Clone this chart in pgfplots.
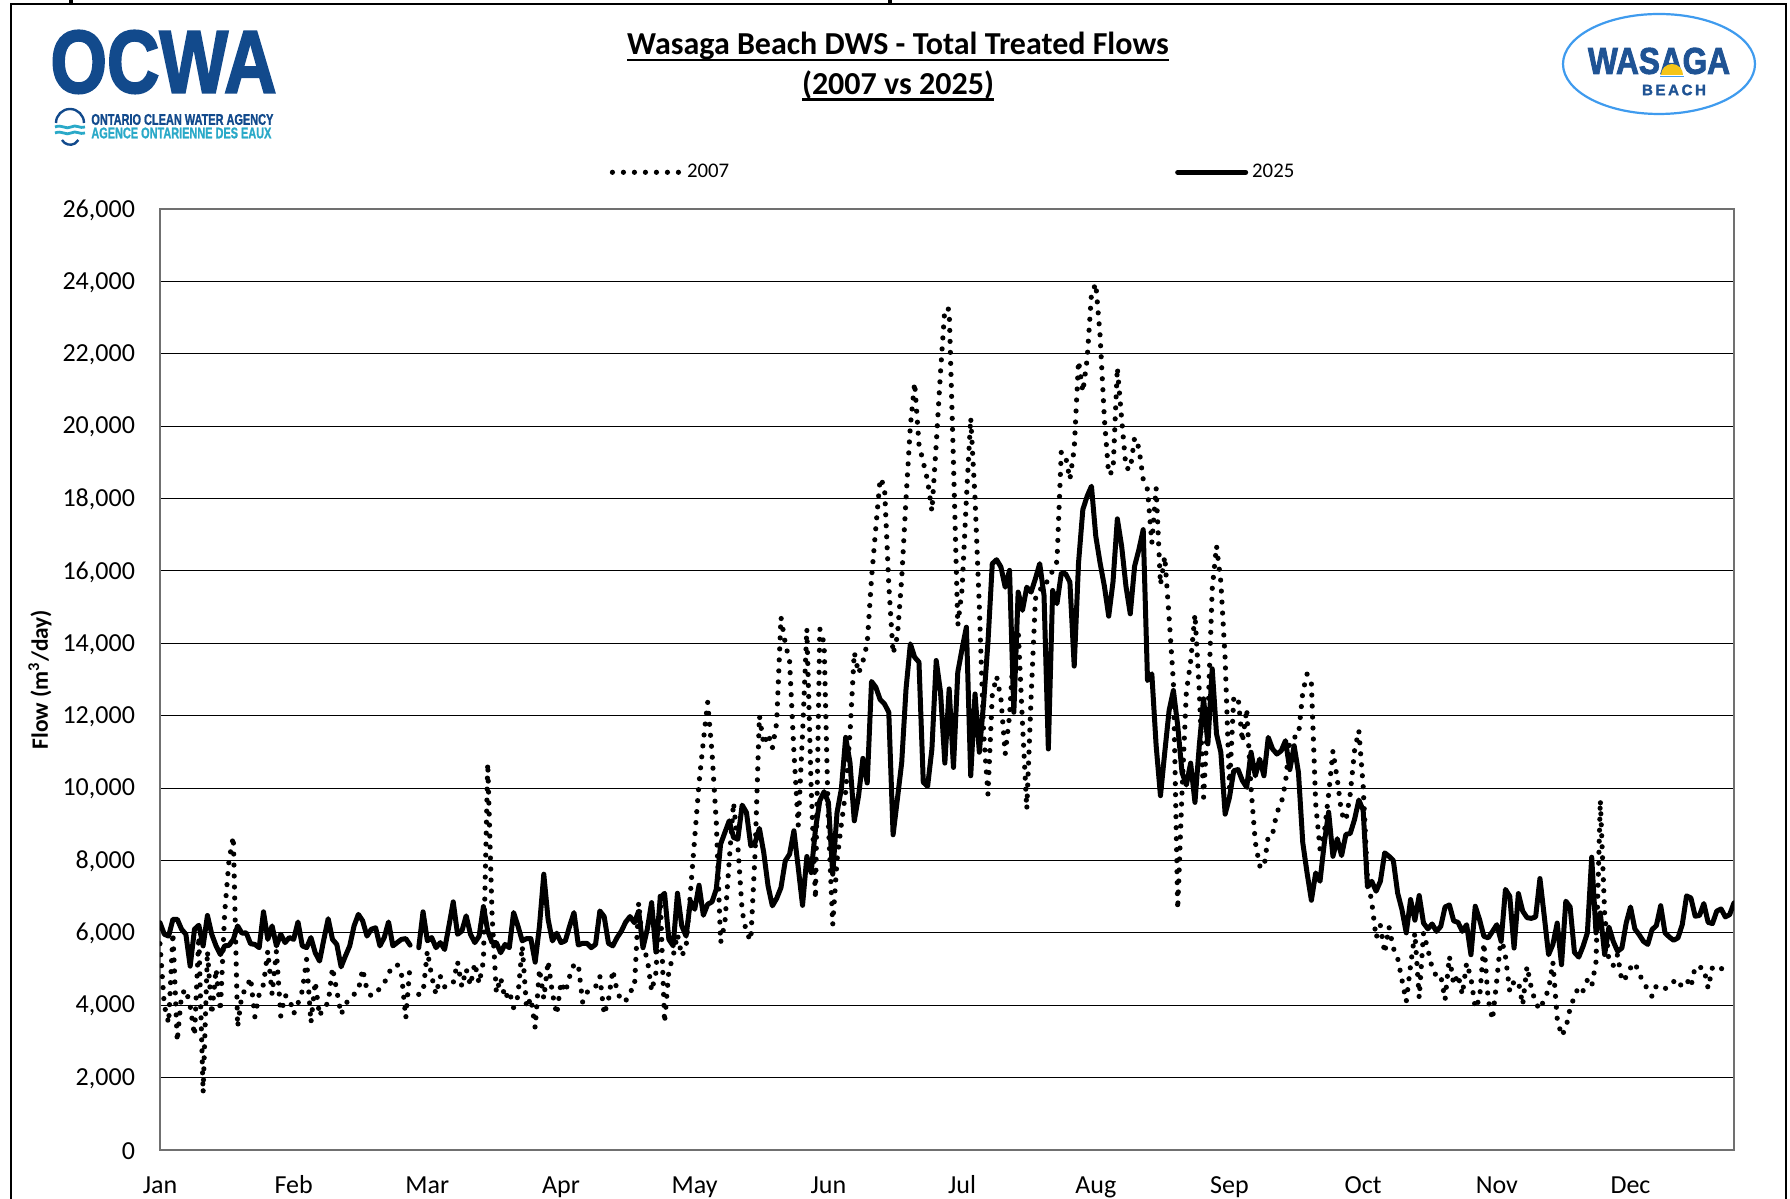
\documentclass[border=0pt]{standalone}
\usepackage{fontspec}
\setmainfont{Carlito}
\newfontfamily\logofont{Liberation Sans}[BoldFeatures={FakeBold=2.5}]
\newfontfamily\smalllogofont{Liberation Sans}[BoldFeatures={FakeBold=1.5}]
\usepackage{pgfplots}
\pgfplotsset{compat=1.18}
\definecolor{ocwablue}{HTML}{124A8C}
\definecolor{ocwateal}{HTML}{2AA9C8}
\definecolor{wasblue}{HTML}{3F9BEE}
\definecolor{wasdark}{HTML}{1F5394}
\definecolor{wassun}{HTML}{F5C518}
\definecolor{framegray}{HTML}{707070}
\newsavebox{\ulbox}
\newcommand{\thickul}[2]{\sbox{\ulbox}{#2}\rlap{\rule[-2.9pt]{\wd\ulbox}{#1}}\usebox{\ulbox}}
\begin{document}
\begin{tikzpicture}
\begin{scope}[x=0.5pt,y=-0.5pt,yshift=599.5pt]
\draw[line width=1.2pt,black] (11,1199)--(11,4)--(1786,4)--(1786,1199);
\draw[line width=2.2pt,black] (71,0)--(71,4);
\draw[line width=1.6pt,black] (890,0)--(890,4);
% OCWA logo
\node[inner sep=0pt,text=ocwablue] at (163.5,62) {\resizebox{113pt}{31pt}{\logofont\bfseries OCWA}};
\node[inner sep=0pt,anchor=west,text=ocwablue] at (91,119.5) {\resizebox{91pt}{5.4pt}{\smalllogofont\bfseries ONTARIO CLEAN WATER AGENCY}};
\node[inner sep=0pt,anchor=west,text=ocwateal] at (91,133) {\resizebox{90pt}{5.4pt}{\smalllogofont\bfseries AGENCE ONTARIENNE DES EAUX}};
\draw[ocwablue,line width=1.2pt] (56,123) arc[start angle=180,end angle=360,radius=14];
\draw[ocwablue,line width=1.2pt] (62,140) arc[start angle=150,end angle=30,radius=9.5];
\foreach \yy in {127,133}{\draw[ocwateal,line width=1.4pt] (55,\yy) .. controls (62,\yy-3) and (66,\yy+3) .. (71,\yy) .. controls (76,\yy-3) and (80,\yy+2) .. (85,\yy);}
% Wasaga logo
\draw[wasblue,line width=1.1pt] (1659,64) ellipse[x radius=96,y radius=50];
\node[inner sep=0pt,text=wasdark] at (1659,61) {\resizebox{71pt}{13pt}{\logofont\bfseries WASAGA}};
\fill[wassun] (1661,75) arc[start angle=180,end angle=360,radius=11] -- cycle;
\draw[wasblue,line width=0.5pt] (1660,77)--(1684,77);
\node[inner sep=0pt,text=wasdark] at (1674,90) {\resizebox{32pt}{!}{\smalllogofont\bfseries B\,E\,A\,C\,H}};
% Title
\node[anchor=base,inner sep=0pt,font=\fontsize{16pt}{20pt}\selectfont\bfseries] at (898,55) {\thickul{0.9pt}{Wasaga Beach DWS - Total Treated Flows}};
\node[anchor=base,inner sep=0pt,font=\fontsize{16pt}{20pt}\selectfont\bfseries] at (898,95) {\thickul{1.5pt}{(2007 vs 2025)}};
\end{scope}
\begin{axis}[
  at={(80pt,24.5pt)},anchor=south west,
  scale only axis,width=787pt,height=470.5pt,
  xmin=0,xmax=365,ymin=0,ymax=26000,
  xtick={0,31,62,93,124,155,186,217,248,279,310,341},
  xticklabels={Jan,Feb,Mar,Apr,May,Jun,Jul,Aug,Sep,Oct,Nov,Dec},
  ytick={0,2000,...,26000},
  major tick length=0pt,
  ymajorgrids,
  grid style={black,line width=0.55pt},
  axis line style={framegray,line width=1.1pt},
  axis on top=false,
  tick label style={font=\fontsize{13pt}{15pt}\selectfont},
  yticklabel style={/pgf/number format/1000 sep={,},/pgf/number format/assume math mode=true,xshift=-9pt,yshift=-0.5pt},
  scaled y ticks=false,
  xticklabel style={yshift=-9pt,text height=9pt,text depth=3pt},
  ylabel={\bfseries Flow (m\textsuperscript{3}/day)},
  every axis y label/.style={at={(rel axis cs:-0.0762,0.5)},rotate=90,anchor=center,font=\fontsize{11.7pt}{13pt}\selectfont},
  unbounded coords=jump,
  legend columns=2,
  legend style={draw=none,fill=none,at={(rel axis cs:0.5045,1.039)},anchor=center,font=\fontsize{10.4pt}{12pt}\selectfont,
    /tikz/every even column/.append style={column sep=221pt}},
  legend image code/.code={\draw[#1] (0pt,0pt) -- (34pt,0pt);},
]
\addplot[black,line width=2.6pt,line cap=round,dash pattern=on 0pt off 5.5pt] coordinates {
(0,5700)(1,4000)(2,3500)(3,6000)(4,3000)(5,4300)(6,4440)(7,3980)(8,3164)(9,5900)(10,1580)(11,5500)(12,3745)(13,5000)(14,3840)(15,6560)(16,8000)(17,8660)(18,3400)(19,4300)
(20,4450)(21,4760)(22,3680)(23,4300)(24,4575)(25,5500)(26,4300)(27,5500)(28,3700)(29,4270)(30,4200)(31,3760)(32,4050)(33,4400)(34,5270)(35,3515)(36,4650)(37,3700)(38,3970)(39,4050)
(40,5040)(41,4400)(42,3745)(43,4020)(44,4200)(45,4300)(46,4420)(47,5000)(48,4420)(49,4250)(50,4350)(51,4460)(52,4600)(53,4900)(54,5040)(55,5130)(56,4850)(57,3650)(58,5130)(59,nan)
(60,4300)(61,4345)(62,5500)(63,4800)(64,4300)(65,4800)(66,4510)(67,4510)(68,4620)(69,5200)(70,4510)(71,5000)(72,4550)(73,5160)(74,4600)(75,5220)(76,10690)(77,6500)(78,4340)(79,4760)
(80,4180)(81,4390)(82,3930)(83,4250)(84,5640)(85,3930)(86,4200)(87,3375)(88,5000)(89,4180)(90,5220)(91,4330)(92,3745)(93,4640)(94,4360)(95,4800)(96,5130)(97,5130)(98,4090)(99,4350)
(100,4480)(101,4510)(102,4800)(103,3745)(104,4150)(105,4970)(106,4390)(107,4115)(108,4115)(109,4390)(110,4450)(111,6835)(112,5600)(113,5290)(114,4390)(115,4900)(116,7020)(117,3515)(118,4950)(119,5360)
(120,5960)(121,5360)(122,5610)(123,7110)(124,8630)(125,10140)(126,11300)(127,12370)(128,11000)(129,9050)(130,5730)(131,6280)(132,8000)(133,9600)(134,8400)(135,6600)(136,6000)(137,5790)(138,8220)(139,12000)
(140,11200)(141,11500)(142,11100)(143,11800)(144,14720)(145,14000)(146,13500)(147,11000)(148,8960)(149,11500)(150,14400)(151,10000)(152,6940)(153,14400)(154,14000)(155,9000)(156,6225)(157,8000)(158,9000)(159,9900)
(160,11500)(161,13750)(162,13170)(163,13500)(164,14000)(165,15800)(166,17200)(167,18555)(168,18340)(169,15620)(170,13710)(171,14200)(172,15800)(173,18000)(174,20000)(175,21200)(176,19500)(177,19000)(178,18500)(179,17650)
(180,19500)(181,21500)(182,23250)(183,23230)(184,19000)(185,14490)(186,15500)(187,18000)(188,20230)(189,18000)(190,15000)(191,11500)(192,9830)(193,12570)(194,13090)(195,12480)(196,10940)(197,12000)(198,14000)(199,14400)
(200,11800)(201,9420)(202,12500)(203,15230)(204,15500)(205,15500)(206,15800)(207,16000)(208,16260)(209,19290)(210,19170)(211,18530)(212,19380)(213,21800)(214,20950)(215,21850)(216,23650)(217,23940)(218,22500)(219,20190)
(220,18660)(221,18760)(222,21620)(223,20200)(224,18850)(225,18800)(226,19680)(227,19400)(228,18530)(229,18250)(230,16775)(231,18290)(232,15620)(233,16400)(234,14720)(235,12930)(236,6650)(237,9900)(238,12650)(239,13500)
(240,14800)(241,12700)(242,9740)(243,12000)(244,15500)(245,16690)(246,15700)(247,13570)(248,10000)(249,12500)(250,12510)(251,11280)(252,12190)(253,10000)(254,8500)(255,7850)(256,7800)(257,8680)(258,8730)(259,9330)
(260,9560)(261,10160)(262,11310)(263,11400)(264,11450)(265,12650)(266,13150)(267,12880)(268,9560)(269,8310)(270,8770)(271,9830)(272,11030)(273,10250)(274,9300)(275,9100)(276,9830)(277,11030)(278,11590)(279,10065)
(280,7500)(281,6850)(282,5860)(283,6200)(284,5440)(285,6160)(286,5580)(287,5300)(288,4700)(289,4100)(290,5100)(291,6000)(292,4200)(293,6000)(294,5550)(295,5030)(296,4800)(297,4820)(298,4150)(299,5350)
(300,4570)(301,4850)(302,4290)(303,5170)(304,4750)(305,3920)(306,4180)(307,5720)(308,4150)(309,3600)(310,4700)(311,5900)(312,5350)(313,4380)(314,4660)(315,4660)(316,4010)(317,5075)(318,4480)(319,4060)
(320,3880)(321,4170)(322,4430)(323,5190)(324,3640)(325,3155)(326,3360)(327,3920)(328,4240)(329,4520)(330,4400)(331,4700)(332,4520)(333,5200)(334,9670)(335,6550)(336,5200)(337,5100)(338,5400)(339,4660)
(340,4780)(341,5030)(342,5170)(343,4890)(344,4610)(345,4450)(346,4240)(347,4540)(348,4500)(349,4455)(350,4550)(351,4660)(352,4490)(353,4600)(354,4720)(355,4500)(356,5070)(357,5050)(358,5020)(359,4470)
(360,5045)(361,5000)(362,4980)(363,5240)
};
\addlegendentry{2007}
\addplot[black,line width=2.5pt,line join=round,line cap=round] coordinates {
(0,6280)(1,5960)(2,5910)(3,6375)(4,6375)(5,6100)(6,5960)(7,5080)(8,6100)(9,6210)(10,5640)(11,6480)(12,5960)(13,5640)(14,5400)(15,5640)(16,5655)(17,5820)(18,6190)(19,5990)
(20,6000)(21,5700)(22,5680)(23,5590)(24,6580)(25,5820)(26,6190)(27,5640)(28,5960)(29,5730)(30,5870)(31,5820)(32,6300)(33,5640)(34,5590)(35,5870)(36,5450)(37,5220)(38,5820)(39,6390)
(40,5820)(41,5680)(42,5060)(43,5360)(44,5640)(45,6190)(46,6510)(47,6330)(48,5910)(49,6100)(50,6140)(51,5640)(52,5870)(53,6300)(54,5640)(55,5730)(56,5820)(57,5840)(58,5660)(59,nan)
(60,5590)(61,6580)(62,5780)(63,5870)(64,5590)(65,5730)(66,5540)(67,6190)(68,6855)(69,5960)(70,6050)(71,6470)(72,5960)(73,5730)(74,5910)(75,6725)(76,6050)(77,5730)(78,5730)(79,5450)
(80,5680)(81,5590)(82,6560)(83,6190)(84,5780)(85,5840)(86,5840)(87,5190)(88,6190)(89,7620)(90,6370)(91,5775)(92,5990)(93,5730)(94,5780)(95,6190)(96,6560)(97,5665)(98,5710)(99,5710)
(100,5590)(101,5680)(102,6605)(103,6450)(104,5710)(105,5640)(106,5870)(107,6050)(108,6300)(109,6450)(110,6280)(111,6600)(112,5590)(113,6100)(114,6835)(115,5470)(116,6974)(117,7094)(118,5820)(119,5640)
(120,7094)(121,6190)(122,5910)(123,6880)(124,6650)(125,7315)(126,6485)(127,6790)(128,6855)(129,7205)(130,8450)(131,8775)(132,9095)(133,8635)(134,8590)(135,9530)(136,9325)(137,8405)(138,8495)(139,8885)
(140,8220)(141,7300)(142,6745)(143,6950)(144,7250)(145,7990)(146,8175)(147,8820)(148,7805)(149,6760)(150,8110)(151,7665)(152,8865)(153,9650)(154,9900)(155,9600)(156,7620)(157,9325)(158,9970)(159,11400)
(160,10710)(161,9095)(162,9790)(163,10820)(164,10140)(165,12945)(166,12785)(167,12445)(168,12325)(169,12095)(170,8710)(171,9700)(172,10710)(173,12740)(174,13985)(175,13615)(176,13480)(177,10160)(178,10045)(179,11080)
(180,13525)(181,12650)(182,10690)(183,12740)(184,10570)(185,13200)(186,13850)(187,14445)(188,10340)(189,12600)(190,10990)(191,12370)(192,14030)(193,16200)(194,16310)(195,16110)(196,15550)(197,16015)(198,12095)(199,15415)
(200,14910)(201,15550)(202,15415)(203,15785)(204,16200)(205,15325)(206,11080)(207,15460)(208,15095)(209,15925)(210,15925)(211,15690)(212,13370)(213,16220)(214,17695)(215,18065)(216,18340)(217,16960)(218,16220)(219,15575)
(220,14750)(221,15700)(222,17438)(223,16680)(224,15575)(225,14815)(226,16130)(227,16590)(228,17140)(229,12970)(230,13155)(231,11170)(232,9790)(233,10990)(234,12140)(235,12695)(236,11725)(237,10430)(238,10085)(239,10690)
(240,9605)(241,11170)(242,12465)(243,11220)(244,13295)(245,11495)(246,10990)(247,9280)(248,9740)(249,10480)(250,10510)(251,10205)(252,10020)(253,10990)(254,10340)(255,10800)(256,10340)(257,11400)(258,11080)(259,10940)
(260,11030)(261,11310)(262,10510)(263,11170)(264,10430)(265,8490)(266,7655)(267,6900)(268,7655)(269,7425)(270,8490)(271,9335)(272,8115)(273,8600)(274,8135)(275,8720)(276,8745)(277,9130)(278,9670)(279,9390)
(280,7270)(281,7425)(282,7150)(283,7425)(284,8210)(285,8115)(286,8000)(287,7100)(288,6640)(289,6000)(290,6920)(291,6350)(292,7030)(293,6270)(294,6110)(295,6245)(296,6040)(297,6180)(298,6715)(299,6770)
(300,6330)(301,6290)(302,6040)(303,6225)(304,5395)(305,6735)(306,6365)(307,5905)(308,5860)(309,6040)(310,6225)(311,5765)(312,7200)(313,7010)(314,5580)(315,7085)(316,6600)(317,6420)(318,6400)(319,6440)
(320,7500)(321,6460)(322,5395)(323,5680)(324,6270)(325,5120)(326,6875)(327,6715)(328,5460)(329,5330)(330,5630)(331,6000)(332,8090)(333,6000)(334,6550)(335,5400)(336,6160)(337,5765)(338,5490)(339,5580)
(340,6270)(341,6715)(342,6110)(343,5950)(344,5765)(345,5680)(346,6090)(347,6200)(348,6750)(349,6000)(350,5885)(351,5795)(352,5860)(353,6225)(354,7020)(355,6965)(356,6460)(357,6480)(358,6810)(359,6290)
(360,6255)(361,6600)(362,6660)(363,6440)(364,6505)(365,6830)
};
\addlegendentry{2025}
\end{axis}
\pgfresetboundingbox
\path[use as bounding box] (0pt,0pt) rectangle (895pt,599.5pt);
\end{tikzpicture}
\end{document}
